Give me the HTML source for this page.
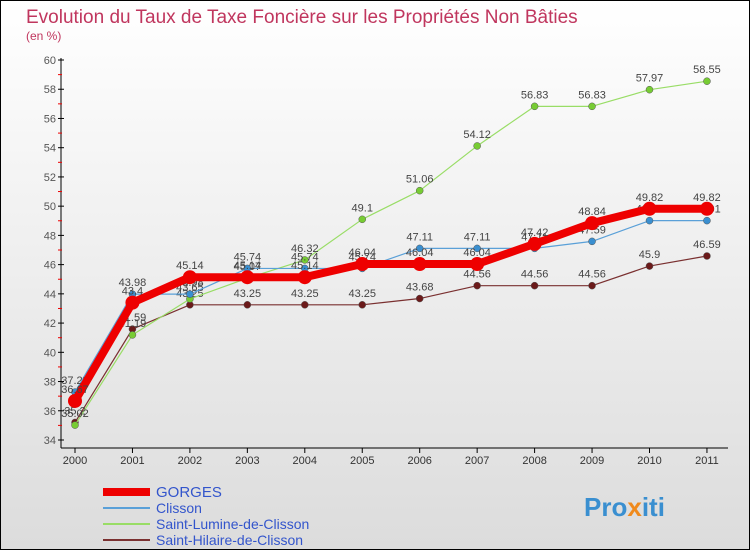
<!DOCTYPE html>
<html><head><meta charset="utf-8"><style>
body{margin:0;width:750px;height:550px;overflow:hidden;font-family:"Liberation Sans",sans-serif}
</style></head><body>
<svg width="750" height="550" xmlns="http://www.w3.org/2000/svg">
<defs><linearGradient id="bg" x1="0" y1="0" x2="0" y2="1"><stop offset="0" stop-color="#ffffff"/><stop offset="1" stop-color="#dcdcdc"/></linearGradient></defs>
<rect x="0.5" y="0.5" width="749" height="549" fill="url(#bg)" stroke="#000"/>
<text x="26" y="23" font-size="19" fill="#c0365e">Evolution du Taux de Taxe Foncière sur les Propriétés Non Bâties</text>
<text x="26" y="40" font-size="12" fill="#c0365e">(en %)</text>
<g id="axes"></g>
<g id="series"></g>
<g id="legend"></g>
<text x="584" y="516" font-size="26" font-weight="bold" fill="#3a8fd0">Pro<tspan fill="#f08a1c">x</tspan>iti</text>
</svg>
<script>
const years=[2000,2001,2002,2003,2004,2005,2006,2007,2008,2009,2010,2011];
const gorges=[36.67,43.4,45.14,45.14,45.14,46.04,46.04,46.04,47.42,48.84,49.82,49.82];
const clisson=[37.28,43.98,43.98,45.74,45.74,45.74,47.11,47.11,47.11,47.59,49.01,49.01];
const lumine=[35.02,41.19,43.65,45.07,46.32,49.1,51.06,54.12,56.83,56.83,57.97,58.55];
const hilaire=[35.2,41.59,43.25,43.25,43.25,43.25,43.68,44.56,44.56,44.56,45.9,46.59];
const yTicks=[34,36,38,40,42,44,46,48,50,52,54,56,58,60];
const NS="http://www.w3.org/2000/svg";
const X=i=>75+i*57.45;
const Y=v=>440-(v-34)*14.615;
function mk(tag,attrs,parent){const e=document.createElementNS(NS,tag);for(const k in attrs)e.setAttribute(k,attrs[k]);parent.appendChild(e);return e;}
const ax=document.getElementById('axes');
let l=mk('line',{x1:61,y1:58,x2:61,y2:448,stroke:'#000'},ax);


l=mk('line',{x1:61,y1:448,x2:728,y2:448,stroke:'#000'},ax);


yTicks.forEach(v=>{
  mk('line',{x1:58,y1:Y(v),x2:64,y2:Y(v),stroke:'#000'},ax);
  if(v<60) mk('line',{x1:58,y1:Y(v+1),x2:62,y2:Y(v+1),stroke:'#e00'},ax);
  const t=mk('text',{x:56,y:Y(v)+4,'font-size':11,fill:'#555','text-anchor':'end'},ax);
  t.textContent=v;
  
  
});
years.forEach((y,i)=>{
  mk('line',{x1:X(i),y1:448,x2:X(i),y2:453,stroke:'#000'},ax);
  const t=mk('text',{x:X(i),y:464,'font-size':11,fill:'#333','text-anchor':'middle'},ax);
  t.textContent=y;
  
  
});
const sg=document.getElementById('series');
const defs=[
 {d:hilaire,c:'#7a3030',w:1.2,r:3.5,f:'#6b1a1a',n:'saint-hilaire'},
 {d:lumine,c:'#99dd66',w:1.2,r:3.5,f:'#77cc33',n:'saint-lumine'},
 {d:clisson,c:'#5aa0d8',w:1.2,r:3.5,f:'#3a8fd0',n:'clisson'},
 {d:gorges,c:'#ee0000',w:8,r:7,f:'#ee0000',n:'gorges'}];
defs.forEach(s=>{
  const g=mk('g',{},sg);
  
  
  const p=mk('polyline',{points:s.d.map((v,i)=>X(i)+','+Y(v)).join(' '),fill:'none',stroke:s.c,'stroke-width':s.w,'stroke-linejoin':'round'},g);
  
  
  s.d.forEach((v,i)=>{
    const c=mk('circle',{cx:X(i),cy:Y(v),r:s.r,fill:s.f,stroke:s.w>2?'none':'#555','stroke-width':0.5},g);
    
    
    const t=mk('text',{x:X(i),y:Y(v)-8,'font-size':11,fill:'#444','text-anchor':'middle'},g);
    t.textContent=v;
    
    
  });
});
const lg=document.getElementById('legend');
const leg=[['GORGES','#ee0000',8],['Clisson','#5aa0d8',2],['Saint-Lumine-de-Clisson','#99dd66',2],['Saint-Hilaire-de-Clisson','#7a3030',2]];
leg.forEach((e,i)=>{
  const y=492+i*16;
  const g=mk('g',{},lg);
  
  
  mk('line',{x1:103,y1:y,x2:150,y2:y,stroke:e[1],'stroke-width':e[2]},g);
  const t=mk('text',{x:156,y:y+5,'font-size':i==0?15:14,fill:'#3355cc'},g);
  t.textContent=e[0];
});
</script>
</body></html>
